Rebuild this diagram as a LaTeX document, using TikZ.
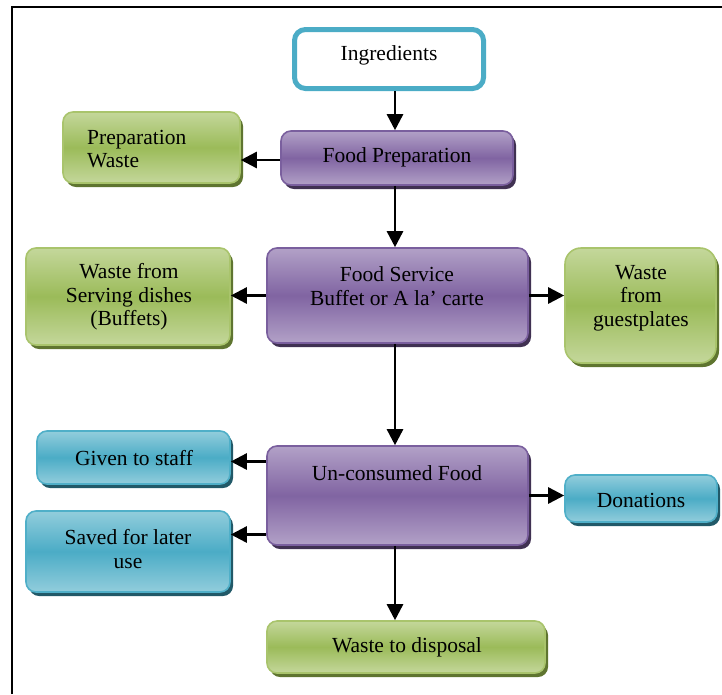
\documentclass[tikz,border=0pt]{standalone}
\usepackage{fontspec}
\setmainfont{Liberation Serif}
\usetikzlibrary{arrows.meta,shadows,calc}
\definecolor{gL}{HTML}{C4D79B}
\definecolor{gD}{HTML}{9BBB59}
\definecolor{gS}{HTML}{5F7530}
\definecolor{gB}{HTML}{A9C46C}
\definecolor{pL}{HTML}{B2A1C7}
\definecolor{pD}{HTML}{8064A2}
\definecolor{pS}{HTML}{403152}
\definecolor{pB}{HTML}{7A5F9E}
\definecolor{bL}{HTML}{92CDDC}
\definecolor{bD}{HTML}{4BACC6}
\definecolor{bS}{HTML}{215968}
\definecolor{bB}{HTML}{4FAFC8}
\tikzset{
  x=1pt, y=-1pt,
  every node/.style={font=\fontsize{21.5}{23.5}\selectfont},
  basebox/.style={rectangle, rounded corners=10pt, line width=1.6pt, inner sep=0pt},
  greenbox/.style={basebox, draw=gB, top color=gL, bottom color=gL, middle color=gD,
     drop shadow={shadow xshift=3pt, shadow yshift=-4pt, fill=gS, opacity=1}},
  purplebox/.style={basebox, draw=pB, top color=pL, bottom color=pL, middle color=pD,
     drop shadow={shadow xshift=3pt, shadow yshift=-4pt, fill=pS, opacity=1}},
  bluebox/.style={basebox, draw=bB, top color=bL, bottom color=bL, middle color=bD,
     drop shadow={shadow xshift=3pt, shadow yshift=-4pt, fill=bS, opacity=1}},
  ingbox/.style={rectangle, rounded corners=11pt, line width=5pt, draw=bD, fill=white},
  txt/.style={align=center, inner sep=0pt},
  arr/.style={line width=2.6pt, -{Triangle[length=16pt,width=16pt]}}
}
\begin{document}
\begin{tikzpicture}
\useasboundingbox (0,0) rectangle (722,694);
% frame
\draw[line width=2.2pt] (12,694) -- (12,7) -- (722,7);
% boxes
\node[ingbox, minimum width=189pt, minimum height=59pt] (ing) at (389,59) {};
\node[purplebox, minimum width=232pt, minimum height=54pt] (fp) at (397,158) {};
\node[greenbox, minimum width=177pt, minimum height=71pt] (pw) at (151.5,147.5) {};
\node[purplebox, minimum width=261pt, minimum height=95pt] (fs) at (397.5,295.5) {};
\node[greenbox, minimum width=204pt, minimum height=97pt] (sv) at (128,296.5) {};
\node[greenbox, rounded corners=16pt, minimum width=151pt, minimum height=115pt] (gp) at (640.5,305.5) {};
\node[purplebox, minimum width=261pt, minimum height=99pt] (uc) at (397.5,495.5) {};
\node[bluebox, minimum width=193pt, minimum height=53pt] (gs) at (133.5,457.5) {};
\node[bluebox, minimum width=204pt, minimum height=81pt] (sl) at (128,551.5) {};
\node[bluebox, minimum width=152pt, minimum height=47pt] (don) at (641,498.5) {};
\node[greenbox, minimum width=278pt, minimum height=52pt] (wd) at (406,647) {};
% texts
\node[txt] (tIng) at (389,55) {Ingredients};
\node[txt, align=left, anchor=west] (tPw) at (87,149) {Preparation\\Waste};
\node[txt] (tFp) at (397,157) {Food Preparation};
\node[txt] (tSv) at (129,297) {Waste from\\Serving dishes\\(Buffets)};
\node[txt] (tFs) at (397,286) {Food Service\\Buffet or A la’ carte};
\node[txt] (tGp) at (641,298) {Waste\\from\\guestplates};
\node[txt] (tGs) at (134,458) {Given to staff};
\node[txt] (tSl) at (128,549) {Saved for later\\use};
\node[txt] (tUc) at (397,473) {Un-consumed Food};
\node[txt] (tDon) at (641,500) {Donations};
\node[txt] (tWd) at (407,647) {Waste to disposal};
% connectors
\coordinate (xl) at (395,0);
\draw[arr] (ing.south -| xl) -- (fp.north -| xl);
\draw[arr] (fp.south -| xl) -- (fs.north -| xl);
\draw[arr] (fs.south -| xl) -- (uc.north -| xl);
\draw[arr] (uc.south -| xl) -- (wd.north -| xl);
\coordinate (fpL) at ([yshift=-2pt]fp.west);
\draw[arr] (fpL) -- (fpL -| pw.east);
\draw[arr] (fs.west) -- (fs.west -| sv.east);
\draw[arr] (fs.east) -- (fs.east -| gp.west);
\draw[arr] (uc.east) -- (uc.east -| don.west);
\coordinate (ucA) at ([yshift=34pt]uc.west);
\coordinate (ucB) at ([yshift=-39pt]uc.west);
\draw[arr] (ucA) -- (ucA -| gs.east);
\draw[arr] (ucB) -- (ucB -| sl.east);
\end{tikzpicture}
\end{document}
